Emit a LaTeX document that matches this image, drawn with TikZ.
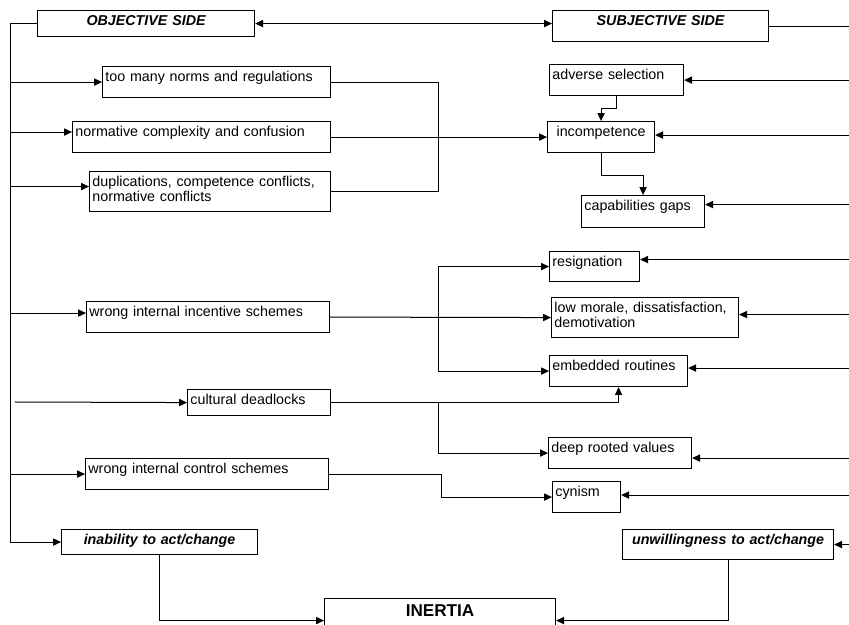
\documentclass[tikz,border=0pt]{standalone}
\usepackage{fontspec}
\setmainfont{Liberation Sans}
\usepackage{tikz}
\usetikzlibrary{arrows.meta,% filled triangle tips
calc}
\tikzset{every node/.style={font=\fontsize{10}{10.5}\selectfont},
  box/.style={draw, line width=0.8pt, anchor=north west, inner xsep=2pt,
    inner ysep=3pt, text height=7.5pt, align=left},
  headbox/.style={box, align=center, text height=7.5pt,
    font=\fontsize{10}{10.5}\selectfont\bfseries\itshape},
  arr/.style={line width=0.7pt, -{Triangle[length=5.5pt,width=5pt]}},
  arrboth/.style={line width=0.7pt, {Triangle[length=5.5pt,width=5pt]}-{Triangle[length=5.5pt,width=5pt]}},
  link/.style={line width=0.7pt}}

\begin{document}
\begin{tikzpicture}[x=0.7pt, y=-0.7pt]
\useasboundingbox (0,0) rectangle (849,625);
% left and right rails
\coordinate (sp) at (10,0);
\coordinate (rx) at (852,0);
\coordinate (j1) at (438,0);
\coordinate (c0) at (15,402);
% objective side
\node[headbox, text width=147.9pt, text depth=4.7pt] (obj) at (37,10) {OBJECTIVE SIDE};
\node[box, text width=155.6pt, text depth=8.2pt] (norms) at (102,66) {too many norms and regulations};
\node[box, text width=176.6pt, text depth=8.2pt] (normc) at (72,121) {normative complexity and confusion};
\node[box, text width=164.7pt, text depth=14.5pt] (dupl) at (89,171) {duplications, competence conflicts,\\normative conflicts};
\node[box, text width=166.1pt, text depth=8.2pt] (incent) at (86,301) {wrong internal incentive schemes};
\node[box, text width=96.1pt, text depth=4.7pt] (cult) at (187,389) {cultural deadlocks};
\node[box, text width=166.1pt, text depth=8.2pt] (ctrl) at (85,458) {wrong internal control schemes};
\node[headbox, text width=133.2pt, text depth=4pt] (inab) at (61,529) {inability to act/change};
% subjective side
\node[headbox, text width=147.2pt, text depth=8.2pt] (subj) at (552,10) {SUBJECTIVE SIDE};
\node[box, text width=89.8pt, text depth=8.2pt] (adv) at (549,64) {adverse selection};
\node[box, align=center, text width=70.9pt, text depth=8.2pt] (inc) at (547,121) {incompetence};
\node[box, text width=82.1pt, text depth=8.9pt] (cap) at (581,195) {capabilities gaps};
\node[box, text width=59pt, text depth=7.5pt] (resig) at (549,251) {resignation};
\node[box, text width=126.9pt, text depth=14.5pt] (moral) at (551,297) {low morale, dissatisfaction,\\demotivation};
\node[box, text width=92.6pt, text depth=8.2pt] (emb) at (549,355) {embedded routines};
\node[box, text width=96.1pt, text depth=8.2pt] (deep) at (548,437) {deep rooted values};
\node[box, text width=43.6pt, text depth=8.2pt] (cyn) at (552,481) {cynism};
\node[headbox, text width=143.7pt, text depth=7.5pt] (unw) at (622,529) {unwillingness to act/change};
% result
\node[headbox, text width=157.7pt, text height=9.6pt, text depth=12.4pt,
  font=\fontsize{12}{13}\selectfont\bfseries] (inert) at (324,598) {INERTIA};

% objective connectors
\draw[arr] (obj.west) -| (sp |- inab.west) -- (inab.west);
\draw[arr] (sp |- norms.west) -- (norms.west);
\draw[arr] ($(sp |- normc.west)+(0,-5)$) -- ($(normc.west)+(0,-5)$);
\draw[arr] ($(sp |- dupl.west)+(0,-5)$) -- ($(dupl.west)+(0,-5)$);
\draw[arr] ($(sp |- incent.west)+(0,-4)$) -- ($(incent.west)+(0,-4)$);
\draw[arr] (c0) -- (cult.west);
\draw[arr] (sp |- ctrl.west) -- (ctrl.west);
\draw[arrboth] (obj.east) -- (subj.west |- obj.east);
\draw[link] (norms.east) -| (j1 |- dupl.east) -- (dupl.east);
\draw[arr] (normc.east) -- (inc.west);
\draw[arr] (incent.east) -- (moral.west);
\draw[arr] (j1 |- incent.east) |- (resig.west);
\draw[arr] (j1 |- incent.east) |- (emb.west);
\draw[arr] (cult.east) -| (emb.south);
\draw[arr] (j1 |- cult.east) |- (deep.west);
\draw[arr] (ctrl.east) -- ++(112,0) |- (cyn.west);
% subjective connectors
\draw[link] (subj.east) -- (subj.east -| rx);
\draw[arr] (adv.south) -- ++(0,12) -| (inc.north);
\draw[arr] (inc.south) -- ++(0,22) -| (cap.north);
\draw[arr] (adv.east -| rx) -- (adv.east);
\draw[arr] ($(inc.east -| rx)+(0,-2)$) -- ($(inc.east)+(0,-2)$);
\draw[arr] ($(cap.east -| rx)+(0,-7)$) -- ($(cap.east)+(0,-7)$);
\draw[arr] ($(resig.east -| rx)+(0,-7)$) -- ($(resig.east)+(0,-7)$);
\draw[arr] ($(moral.east -| rx)+(0,-3)$) -- ($(moral.east)+(0,-3)$);
\draw[arr] ($(emb.east -| rx)+(0,-3)$) -- ($(emb.east)+(0,-3)$);
\draw[arr] ($(deep.east -| rx)+(0,5)$) -- ($(deep.east)+(0,5)$);
\draw[arr] ($(cyn.east -| rx)+(0,-2)$) -- ($(cyn.east)+(0,-2)$);
\draw[arr] (unw.east -| rx) -- (unw.east);
% towards inertia
\draw[arr] (inab.south) |- ($(inert.west)+(0,2)$);
\draw[arr] (unw.south) |- ($(inert.east)+(0,2)$);
\end{tikzpicture}
\end{document}
